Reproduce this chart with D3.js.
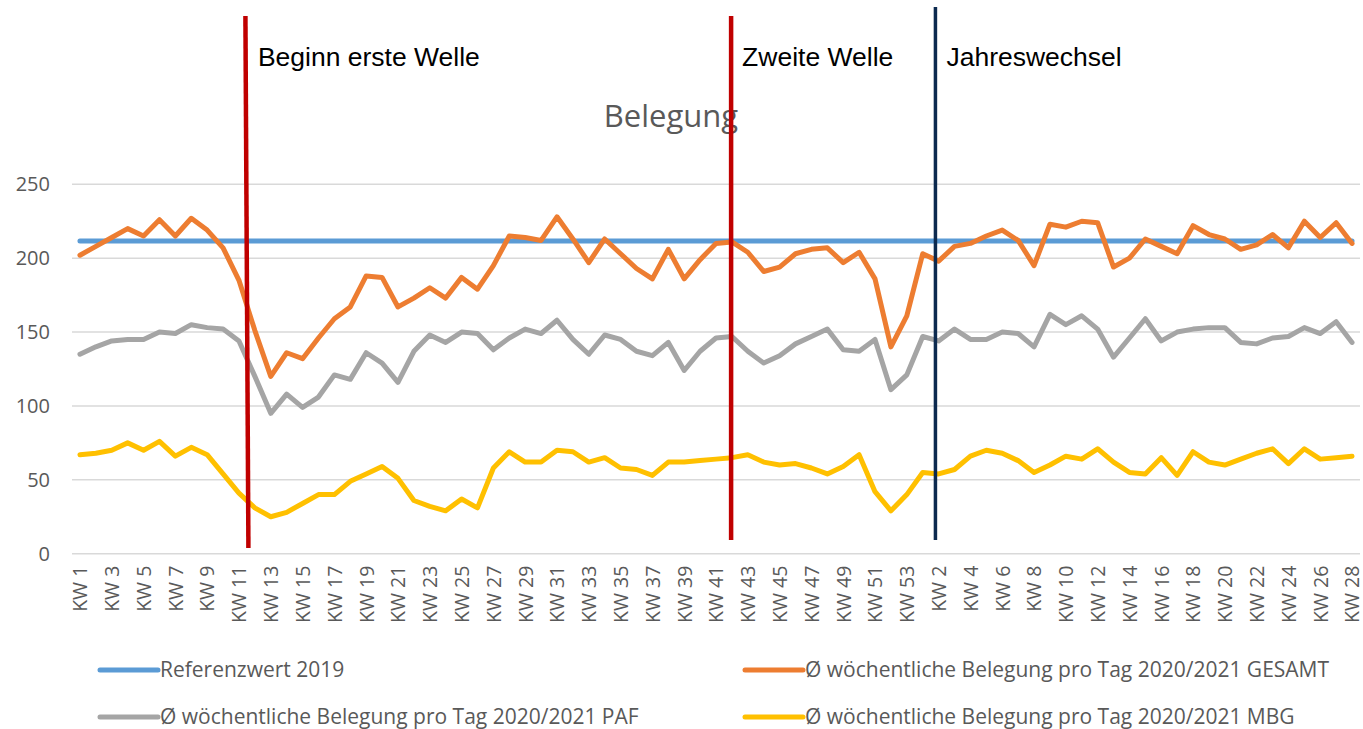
<!DOCTYPE html>
<html lang="de">
<head>
<meta charset="utf-8">
<title>Belegung</title>
<script src="https://cdn.jsdelivr.net/npm/d3@7"></script>
<style>
  body { margin: 0; background: #fff; }
</style>
</head>
<body>
<script>
// Kalenderwochen 2020 (KW 1-53) und 2021 (KW 1-28)
var categories = [
  "KW 1","KW 2","KW 3","KW 4","KW 5","KW 6","KW 7","KW 8","KW 9","KW 10",
  "KW 11","KW 12","KW 13","KW 14","KW 15","KW 16","KW 17","KW 18","KW 19","KW 20",
  "KW 21","KW 22","KW 23","KW 24","KW 25","KW 26","KW 27","KW 28","KW 29","KW 30",
  "KW 31","KW 32","KW 33","KW 34","KW 35","KW 36","KW 37","KW 38","KW 39","KW 40",
  "KW 41","KW 42","KW 43","KW 44","KW 45","KW 46","KW 47","KW 48","KW 49","KW 50",
  "KW 51","KW 52","KW 53",
  "KW 1","KW 2","KW 3","KW 4","KW 5","KW 6","KW 7","KW 8","KW 9","KW 10",
  "KW 11","KW 12","KW 13","KW 14","KW 15","KW 16","KW 17","KW 18","KW 19","KW 20",
  "KW 21","KW 22","KW 23","KW 24","KW 25","KW 26","KW 27","KW 28"
];

var referenz2019 = 211.6;

var gesamt = [
  202, 208, 214, 220, 215, 226, 215, 227, 219, 207,
  185, 151, 120, 136, 132, 146, 159, 167, 188, 187,
  167, 173, 180, 173, 187, 179, 195, 215, 214, 212,
  228, 213, 197, 213, 203, 193, 186, 206, 186, 199,
  210, 211, 204, 191, 194, 203, 206, 207, 197, 204,
  186, 140, 161, 203, 198, 208, 210, 215, 219, 212,
  195, 223, 221, 225, 224, 194, 200, 213, 208, 203,
  222, 216, 213, 206, 209, 216, 207, 225, 214, 224,
  210
];

var paf = [
  135, 140, 144, 145, 145, 150, 149, 155, 153, 152,
  144, 120, 95, 108, 99, 106, 121, 118, 136, 129,
  116, 137, 148, 143, 150, 149, 138, 146, 152, 149,
  158, 145, 135, 148, 145, 137, 134, 143, 124, 137,
  146, 147, 137, 129, 134, 142, 147, 152, 138, 137,
  145, 111, 121, 147, 144, 152, 145, 145, 150, 149,
  140, 162, 155, 161, 152, 133, 146, 159, 144, 150,
  152, 153, 153, 143, 142, 146, 147, 153, 149, 157,
  143
];

var mbg = [
  67, 68, 70, 75, 70, 76, 66, 72, 67, 54,
  41, 31, 25, 28, 34, 40, 40, 49, 54, 59,
  51, 36, 32, 29, 37, 31, 58, 69, 62, 62,
  70, 69, 62, 65, 58, 57, 53, 62, 62, 63,
  64, 65, 67, 62, 60, 61, 58, 54, 59, 67,
  42, 29, 40, 55, 54, 57, 66, 70, 68, 63,
  55, 60, 66, 64, 71, 62, 55, 54, 65, 53,
  69, 62, 60, 64, 68, 71, 61, 71, 64, 65,
  66
];

var yTicks = [0, 50, 100, 150, 200, 250];

// Markierungen: Position als Kategorie-Index (auch zwischen zwei Wochen)
var markers = [
  { label: "Beginn erste Welle", pos: 10.5, color: "#c00000" },
  { label: "Zweite Welle", pos: 40.95, color: "#c00000" },
  { label: "Jahreswechsel", pos: 53.8, color: "#0c2a4f" }
];

var legendItems = [
  { name: "Referenzwert 2019", color: "#5b9bd5" },
  { name: "Ø wöchentliche Belegung pro Tag 2020/2021 GESAMT", color: "#ed7d31" },
  { name: "Ø wöchentliche Belegung pro Tag 2020/2021 PAF", color: "#a5a5a5" },
  { name: "Ø wöchentliche Belegung pro Tag 2020/2021 MBG", color: "#ffc000" }
];

var w = 1363;
var h = 729;
var plotLeft = 72, plotRight = 1360, plotTop = 184.3, plotBottom = 553.7;
var uiFont = "'Open Sans', 'Noto Sans', sans-serif";

var svg = d3.select("body")
  .append("svg")
  .attr("width", w)
  .attr("height", h);

var idx = d3.range(categories.length);

var x = d3.scalePoint()
  .domain(idx)
  .range([plotLeft, plotRight])
  .padding(0.5);

var y = d3.scaleLinear()
  .domain([0, 250])
  .range([plotBottom, plotTop]);

function xAt(p) {
  return x(0) + p * x.step();
}

// grid lines
svg.append("g")
  .selectAll("line")
  .data(yTicks)
  .enter()
  .append("line")
  .attr("x1", plotLeft)
  .attr("x2", plotRight)
  .attr("y1", function(d){ return y(d); })
  .attr("y2", function(d){ return y(d); })
  .attr("stroke", "#d9d9d9")
  .attr("stroke-width", 1.5);

// y axis labels
var yAxis = d3.axisLeft(y)
  .tickValues(yTicks)
  .tickSize(0)
  .tickPadding(0);

svg.append("g")
  .attr("transform", "translate(50,0)")
  .call(yAxis)
  .call(function(g){ g.select(".domain").remove(); })
  .selectAll("text")
  .style("font-family", uiFont)
  .style("font-size", "20px")
  .attr("fill", "#595959");

// x axis labels (every second week)
var xAxis = d3.axisBottom(x)
  .tickValues(idx.filter(function(i){ return i % 2 === 0; }))
  .tickFormat(function(i){ return categories[i]; })
  .tickSize(0);

svg.append("g")
  .attr("transform", "translate(0," + plotBottom + ")")
  .call(xAxis)
  .call(function(g){ g.select(".domain").remove(); })
  .selectAll("text")
  .style("font-family", uiFont)
  .style("font-size", "19.5px")
  .attr("fill", "#595959")
  .attr("text-anchor", "end")
  .attr("dy", "0.35em")
  .attr("transform", "translate(0,12) rotate(-90)")
  .attr("x", 0)
  .attr("y", 0);

// reference line
svg.append("line")
  .attr("x1", x(0))
  .attr("x2", x(idx.length - 1))
  .attr("y1", y(referenz2019))
  .attr("y2", y(referenz2019))
  .attr("stroke", legendItems[0].color)
  .attr("stroke-width", 5)
  .attr("stroke-linecap", "round");

var line = d3.line()
  .x(function(d, i){ return x(i); })
  .y(function(d){ return y(d); });

var seriesList = [
  { values: gesamt, color: legendItems[1].color },
  { values: paf, color: legendItems[2].color },
  { values: mbg, color: legendItems[3].color }
];

svg.selectAll("path.series")
  .data(seriesList)
  .enter()
  .append("path")
  .attr("class", "series")
  .attr("d", function(d){ return line(d.values); })
  .attr("fill", "none")
  .attr("stroke", function(d){ return d.color; })
  .attr("stroke-width", 5)
  .attr("stroke-linejoin", "round")
  .attr("stroke-linecap", "round");

// title
svg.append("text")
  .attr("x", 671)
  .attr("y", 127)
  .attr("text-anchor", "middle")
  .style("font-family", uiFont)
  .style("font-size", "31px")
  .attr("fill", "#595959")
  .text("Belegung");

// marker lines
var mk = svg.selectAll("g.marker")
  .data(markers)
  .enter()
  .append("g")
  .attr("class", "marker");

mk.append("line")
  .attr("x1", function(d, i){ return xAt(d.pos) - (i === 0 ? 1.5 : 0); })
  .attr("x2", function(d, i){ return xAt(d.pos) + (i === 0 ? 1.5 : 0); })
  .attr("y1", function(d, i){ return i === 2 ? 7 : 16; })
  .attr("y2", function(d, i){ return i === 0 ? 548 : 540; })
  .attr("stroke", function(d){ return d.color; })
  .attr("stroke-width", function(d, i){ return i === 2 ? 3.5 : 4.5; });

mk.append("text")
  .attr("x", function(d){ return xAt(d.pos) + 11; })
  .attr("y", 66)
  .style("font-family", "'Liberation Sans', Arial, sans-serif")
  .style("font-size", "26.5px")
  .attr("fill", "#000")
  .text(function(d){ return d.label; });

// legend
var legendPos = [[100, 670], [745, 670], [100, 717], [745, 717]];

var lg = svg.selectAll("g.legend")
  .data(legendItems)
  .enter()
  .append("g")
  .attr("class", "legend")
  .attr("transform", function(d, i){
    return "translate(" + legendPos[i][0] + "," + legendPos[i][1] + ")";
  });

lg.append("line")
  .attr("x1", 0)
  .attr("x2", 58)
  .attr("y1", 0)
  .attr("y2", 0)
  .attr("stroke", function(d){ return d.color; })
  .attr("stroke-width", 5)
  .attr("stroke-linecap", "round");

lg.append("text")
  .attr("x", 60)
  .attr("y", 0)
  .attr("dy", "0.35em")
  .style("font-family", uiFont)
  .style("font-size", "21px")
  .attr("fill", "#595959")
  .text(function(d){ return d.name; });
</script>
</body>
</html>
